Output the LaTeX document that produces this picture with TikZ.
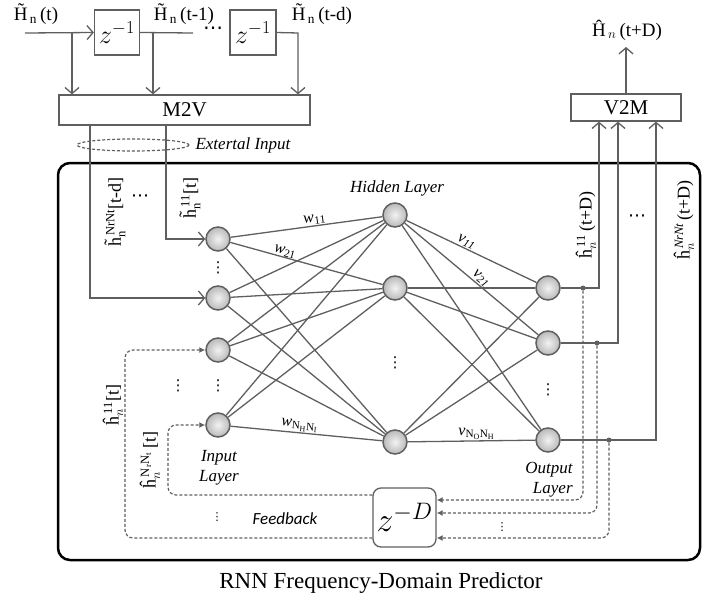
\documentclass[tikz,border=0pt]{standalone}
\usepackage{fix-cm}
\usepackage{fontspec}
\setmainfont{Liberation Serif}
\newfontfamily\feedfont{Carlito}
\newfontfamily\symfont{DejaVu Sans}
\usetikzlibrary{arrows.meta}
\definecolor{linegray}{HTML}{5F5F5F}
\tikzset{
  wire/.style={draw=linegray,line width=1.3pt},
  fb/.style={draw=linegray,line width=1.2pt,dash pattern=on 3pt off 2pt,rounded corners=8pt,-{Latex[length=6pt,width=6pt]}},
  neuron/.style={shape=circle,draw=linegray,line width=1.5pt,minimum size=24pt,inner sep=0pt,inner color=gray!10,outer color=gray!55},
  blockbox/.style={draw=linegray,line width=1.3pt,inner sep=0pt},
  dot/.style={shape=circle,fill=linegray,inner sep=0pt,minimum size=5pt},
  vlabel/.style={rotate=90,inner sep=1pt,font=\fontsize{18}{20}\selectfont},
  vdots/.style={inner sep=1pt,font=\symfont\fontsize{15}{15}\selectfont},
}
\begin{document}
\begin{tikzpicture}[x=1pt,y=-1pt,>={Straight Barb[length=6pt,width=14pt]},
    every node/.style={font=\fontsize{16}{18}\selectfont}]
\useasboundingbox (0,0) rectangle (720,602);

% delay line and M2V
\node[blockbox,minimum width=45pt,minimum height=45pt] (D1) at (117,32.5) {\fontsize{26}{26}\selectfont$z^{-1}$};
\node[blockbox,minimum width=46pt,minimum height=45pt] (D2) at (253,32.5) {\fontsize{26}{26}\selectfont$z^{-1}$};
\node[blockbox,minimum width=251pt,minimum height=30pt] (M2V) at (184.5,110) {\fontsize{21}{21}\selectfont M2V};
\node[blockbox,minimum width=110pt,minimum height=27pt] (V2M) at (626,107.5) {\fontsize{21}{21}\selectfont V2M};

\node (T0) at (36,14) {\fontsize{19}{19}\selectfont\~{H}$_{\,\mathrm{n}}$\,(t)};
\node (T1) at (184,14) {\fontsize{19}{19}\selectfont\~{H}$_{\,\mathrm{n}}$\,(t-1)};
\node (T2) at (322,14) {\fontsize{19}{19}\selectfont\~{H}$_{\,\mathrm{n}}$\,(t-d)};
\node[vdots,font=\symfont\fontsize{20}{20}\selectfont] (dd) at (213,31) {⋯};

\coordinate (in) at (25,33);
\coordinate (s0) at (72,33);
\coordinate (s1) at (153,33);
\coordinate (c1) at (193,33);
\coordinate (s2) at (298,33);
\draw[wire,->] (in) -- (D1.west);
\draw[wire,->] (s0) -- (s0 |- M2V.north);
\draw[wire] (D1.east) -- (c1);
\draw[wire,->] (s1) -- (s1 |- M2V.north);
\draw[wire,->] (D2.east) -- (s2) -- (s2 |- M2V.north);

\draw[linegray,line width=1.2pt,dash pattern=on 3pt off 2pt] (133,145) ellipse [x radius=56, y radius=6];
\node[font=\fontsize{17}{19}\selectfont\itshape] (ext) at (243,145) {Extertal Input};

% RNN frame
\draw[line width=2.5pt,rounded corners=12pt] (58,163) rectangle (700,560);
\node[font=\fontsize{23}{25}\selectfont] (cap) at (381,583) {RNN Frequency-Domain Predictor};

% neurons
\node[neuron] (I1) at (218,239) {};
\node[neuron] (I2) at (218,298) {};
\node[neuron] (I3) at (218,350) {};
\node[neuron] (I4) at (218,425) {};
\node[neuron] (H1) at (395,215) {};
\node[neuron] (H2) at (395,288) {};
\node[neuron] (H3) at (395,442) {};
\node[neuron] (O1) at (548,288) {};
\node[neuron] (O2) at (548,343) {};
\node[neuron] (O3) at (548,440) {};

\node[vdots] (vI1) at (218,268) {⋮};
\node[vdots] (vI2) at (218,386) {⋮};
\node[vdots] (vI3) at (178,386) {⋮};
\node[vdots] (vH) at (395,363) {⋮};
\node[vdots] (vO) at (548,390) {⋮};

\node[font=\fontsize{17}{19}\selectfont\itshape] (hid) at (397,188) {Hidden Layer};
\node[font=\fontsize{17}{20}\selectfont\itshape,align=center] (inl) at (219,468) {Input\\Layer};
\node[font=\fontsize{17}{20}\selectfont\itshape,align=right] (outl) at (549,480) {Output\\Layer};

% weights
\path[wire] (I1) edge node[above,sloped,pos=0.56,inner sep=1pt] {\textit{w}$_{\mathrm{11}}$} (H1);
\path[wire] (I1) edge node[above,sloped,pos=0.35,inner sep=0pt] {\textit{w}$_{\mathrm{21}}$} (H2);
\path[wire] (I1) edge (H3);
\path[wire] (I2) edge (H1) edge (H2) edge (H3);
\path[wire] (I3) edge (H1) edge (H2) edge (H3);
\path[wire] (I4) edge (H1) edge (H2);
\path[wire] (I4) edge node[above,sloped,pos=0.45,inner sep=1pt] {\textit{w}$_{\mathrm{N_HN_I}}$} (H3);
\path[wire] (H1) edge node[above,sloped,pos=0.44,inner sep=1pt] {\textit{v}$_{\mathit{11}}$} (O1);
\path[wire] (H1) edge node[above,sloped,pos=0.54,inner sep=1pt] {\textit{v}$_{\mathit{21}}$} (O2);
\path[wire] (H1) edge (O3);
\path[wire] (H2) edge (O1) edge (O2) edge (O3);
\path[wire] (H3) edge (O1) edge (O2);
\path[wire] (H3) edge node[above,pos=0.54,inner sep=1pt] {\textit{v}$_{\mathrm{N_ON_H}}$} (O3);

% external input
\coordinate (a1) at (166,239);
\coordinate (a2) at (90,298);
\draw[wire,->] (M2V.south -| a1) -- (a1) -- (I1.west);
\draw[wire,->] (M2V.south -| a2) -- (a2) -- (I2.west);
\node[vlabel] (li1) at (190,198) {\~{h}$_{\mathrm{n}}^{\,\mathrm{11}}$[t]};
\node[vlabel] (li2) at (115,212) {\~{h}$_{\mathrm{n}}^{\,\mathrm{NrNt}}$[t-d]};
\node[vdots,font=\symfont\fontsize{18}{18}\selectfont] (ldots) at (140,198) {⋯};

% outputs
\coordinate (b1) at (599,288);
\coordinate (b2) at (618,343);
\coordinate (b3) at (656,440);
\coordinate (out) at (626,47);
\draw[wire,->] (O1.east) -- (b1) -- (b1 |- V2M.south);
\draw[wire,->] (O2.east) -- (b2) -- (b2 |- V2M.south);
\draw[wire,->] (O3.east) -- (b3) -- (b3 |- V2M.south);
\draw[wire,->] (V2M.north) -- (out);
\node (Hout) at (627,30) {\fontsize{19}{19}\selectfont\^{H}$_{\,n}$\,(t+D)};
\node[vlabel] (lo1) at (586,225) {\^{h}$_{n}^{\,\mathrm{11}}$\,(t+D)};
\node[vlabel] (lo2) at (684,220) {\^{h}$_{n}^{\,\mathit{NrNt}}$\,(t+D)};
\node[vdots,font=\symfont\fontsize{18}{18}\selectfont] (rdots) at (637,218) {⋯};

% feedback
\node[blockbox,rounded corners=8pt,minimum width=63pt,minimum height=59pt] (ZD) at (404.5,517.5) {\fontsize{34}{34}\selectfont$z^{-D}$};
\node[dot] (j1) at (583,288) {};
\node[dot] (j2) at (597,343) {};
\node[dot] (j3) at (609,440) {};
\coordinate (f1) at (583,500);
\coordinate (f2) at (597,513);
\coordinate (f3) at (609,538);
\draw[fb] (j1) -- (f1) -- (f1 -| ZD.east);
\draw[fb] (j2) -- (f2) -- (f2 -| ZD.east);
\draw[fb] (j3) -- (f3) -- (f3 -| ZD.east);
\node[vdots,font=\symfont\fontsize{11}{11}\selectfont] (fdots) at (502,527) {⋮};
\coordinate (g1) at (168,495);
\coordinate (g2) at (125,538);
\draw[fb] (g1 -| ZD.west) -- (g1) -- (g1 |- I4) -- (I4.west);
\draw[fb] (g2 -| ZD.west) -- (g2) -- (g2 |- I3) -- (I3.west);
\node[vdots,font=\symfont\fontsize{11}{11}\selectfont] (bdots) at (217,517) {⋮};
\node[font=\fontsize{17}{19}\selectfont\feedfont\itshape] (feed) at (285,519) {Feedback};
\node[vlabel] (lf1) at (113,405) {\^{h}$_{n}^{\,\mathrm{11}}$[t]};
\node[vlabel] (lf2) at (150,460) {\^{h}$_{n}^{\,\mathrm{N_rN_t}}$\,[t]};
\end{tikzpicture}
\end{document}
